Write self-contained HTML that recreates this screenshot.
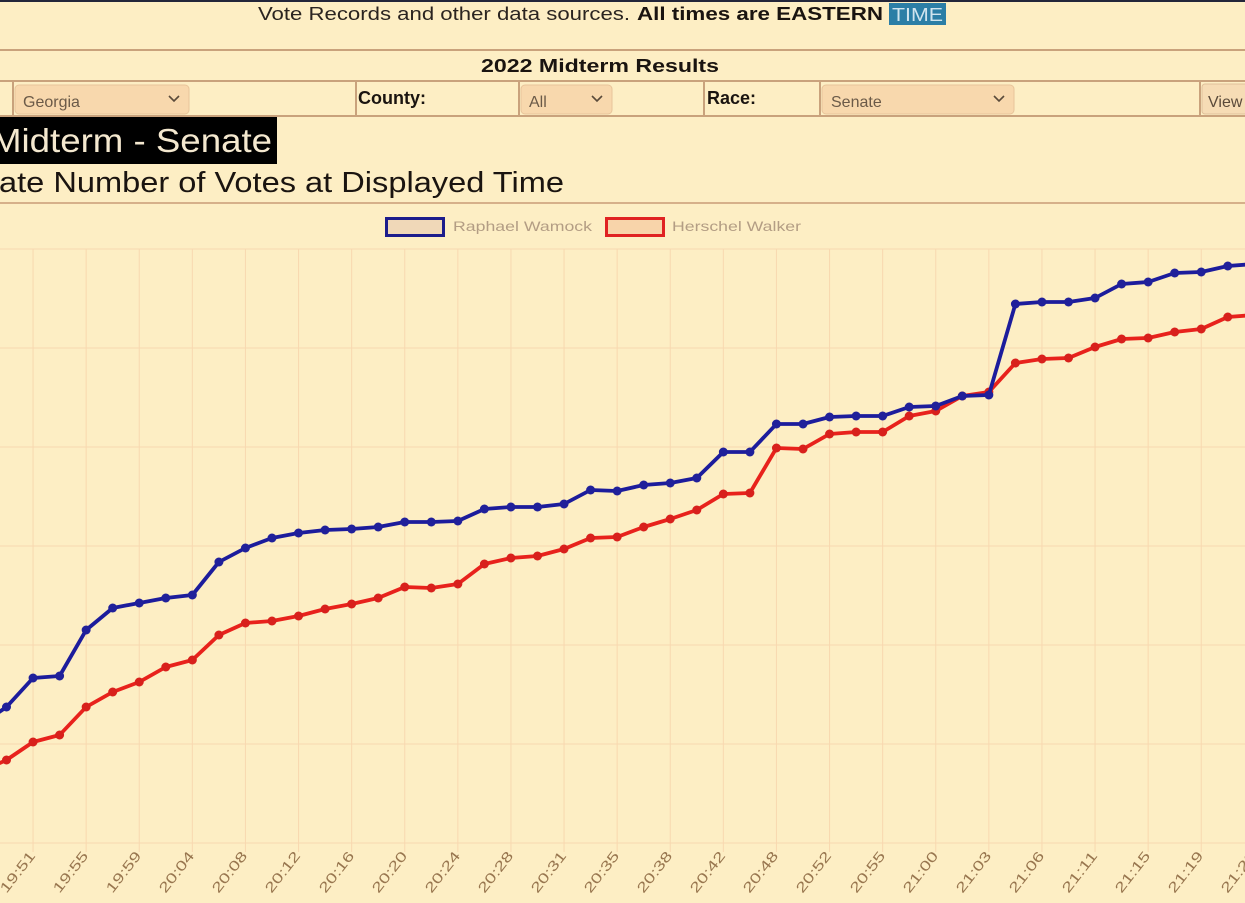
<!DOCTYPE html>
<html><head><meta charset="utf-8"><style>
html,body{margin:0;padding:0;background:#fdeec4;}
svg{display:block;}
text{font-family:"Liberation Sans",sans-serif;}
</style></head><body>
<svg width="1245" height="903" viewBox="0 0 1245 903" xmlns="http://www.w3.org/2000/svg">
<rect x="0" y="0" width="1245" height="903" fill="#fdeec4"/>
<rect x="0" y="0" width="1245" height="2" fill="#23263a"/>
<!-- top text -->
<text x="258" y="20" font-size="18" fill="#2a2420" textLength="372" lengthAdjust="spacingAndGlyphs">Vote Records and other data sources.</text>
<text x="637" y="20" font-size="18" font-weight="bold" fill="#1a1410" textLength="246" lengthAdjust="spacingAndGlyphs">All times are EASTERN</text>
<rect x="889" y="3" width="57" height="22" fill="#2b7ea6"/>
<text x="892" y="21" font-size="18" fill="#cfe4ee" textLength="51" lengthAdjust="spacingAndGlyphs">TIME</text>
<!-- rules -->
<line x1="0" y1="50" x2="1245" y2="50" stroke="#c9a27c" stroke-width="2"/>
<text x="481" y="72" font-size="18" font-weight="bold" fill="#1a1410" textLength="238" lengthAdjust="spacingAndGlyphs">2022 Midterm Results</text>
<line x1="0" y1="81" x2="1245" y2="81" stroke="#c9a27c" stroke-width="2"/>
<line x1="0" y1="116" x2="1245" y2="116" stroke="#c9a27c" stroke-width="2"/>
<g stroke="#c9a27c" stroke-width="2">
<line x1="13" y1="81" x2="13" y2="116"/>
<line x1="356" y1="81" x2="356" y2="116"/>
<line x1="519" y1="81" x2="519" y2="116"/>
<line x1="704" y1="81" x2="704" y2="116"/>
<line x1="820" y1="81" x2="820" y2="116"/>
<line x1="1200" y1="81" x2="1200" y2="116"/>
</g>
<!-- selects -->
<rect x="15" y="85" width="174" height="29" rx="4" fill="#f8d8ad" stroke="#e8c49a" stroke-width="1"/>
<text x="23" y="107" font-size="16" fill="#6b5a48">Georgia</text>
<polyline points="169,96 174,101 179,96" fill="none" stroke="#5a4a3a" stroke-width="1.6"/>
<text x="358" y="104" font-size="18" font-weight="bold" fill="#1a1410">County:</text>
<rect x="521" y="85" width="91" height="29" rx="4" fill="#f8d8ad" stroke="#e8c49a" stroke-width="1"/>
<text x="529" y="107" font-size="16" fill="#6b5a48">All</text>
<polyline points="592,96 597,101 602,96" fill="none" stroke="#5a4a3a" stroke-width="1.6"/>
<text x="707" y="104" font-size="18" font-weight="bold" fill="#1a1410">Race:</text>
<rect x="822" y="85" width="192" height="29" rx="4" fill="#f8d8ad" stroke="#e8c49a" stroke-width="1"/>
<text x="831" y="107" font-size="16" fill="#6b5a48">Senate</text>
<polyline points="994,96 999,101 1004,96" fill="none" stroke="#5a4a3a" stroke-width="1.6"/>
<rect x="1202" y="84" width="50" height="30" rx="3" fill="#f6dcb5" stroke="#e0c09a" stroke-width="1"/>
<text x="1208" y="107" font-size="16" fill="#5a4a3a">View</text>
<!-- black title -->
<rect x="0" y="117" width="277" height="47" fill="#000"/>
<text x="-9" y="152" font-size="33" fill="#f4e8cf" textLength="281" lengthAdjust="spacingAndGlyphs">Midterm - Senate</text>
<text x="-1" y="192" font-size="29" fill="#1a1410" textLength="565" lengthAdjust="spacingAndGlyphs">ate Number of Votes at Displayed Time</text>
<line x1="0" y1="203" x2="1245" y2="203" stroke="#d6b08a" stroke-width="2"/>
<!-- legend -->
<rect x="386.5" y="218.5" width="57" height="17" fill="#f0d8b8" stroke="#1c1c8c" stroke-width="3"/>
<text x="453" y="231" font-size="14" fill="#b39d84" textLength="139" lengthAdjust="spacingAndGlyphs">Raphael Wamock</text>
<rect x="606.5" y="218.5" width="57" height="17" fill="#f8d4aa" stroke="#e02222" stroke-width="3"/>
<text x="672" y="231" font-size="14" fill="#b39d84" textLength="129" lengthAdjust="spacingAndGlyphs">Herschel Walker</text>
<!-- grid -->
<g stroke="#f8d8b0" stroke-width="1">
<line x1="0" y1="249" x2="1245" y2="249"/>
<line x1="0" y1="348" x2="1245" y2="348"/>
<line x1="0" y1="447" x2="1245" y2="447"/>
<line x1="0" y1="546" x2="1245" y2="546"/>
<line x1="0" y1="645" x2="1245" y2="645"/>
<line x1="0" y1="744" x2="1245" y2="744"/>
<line x1="0" y1="843" x2="1245" y2="843"/>
<line x1="33.05" y1="249" x2="33.05" y2="852"/>
<line x1="86.15" y1="249" x2="86.15" y2="852"/>
<line x1="139.25" y1="249" x2="139.25" y2="852"/>
<line x1="192.35" y1="249" x2="192.35" y2="852"/>
<line x1="245.45" y1="249" x2="245.45" y2="852"/>
<line x1="298.55" y1="249" x2="298.55" y2="852"/>
<line x1="351.65" y1="249" x2="351.65" y2="852"/>
<line x1="404.75" y1="249" x2="404.75" y2="852"/>
<line x1="457.85" y1="249" x2="457.85" y2="852"/>
<line x1="510.95" y1="249" x2="510.95" y2="852"/>
<line x1="564.05" y1="249" x2="564.05" y2="852"/>
<line x1="617.15" y1="249" x2="617.15" y2="852"/>
<line x1="670.25" y1="249" x2="670.25" y2="852"/>
<line x1="723.35" y1="249" x2="723.35" y2="852"/>
<line x1="776.45" y1="249" x2="776.45" y2="852"/>
<line x1="829.55" y1="249" x2="829.55" y2="852"/>
<line x1="882.65" y1="249" x2="882.65" y2="852"/>
<line x1="935.75" y1="249" x2="935.75" y2="852"/>
<line x1="988.85" y1="249" x2="988.85" y2="852"/>
<line x1="1041.95" y1="249" x2="1041.95" y2="852"/>
<line x1="1095.05" y1="249" x2="1095.05" y2="852"/>
<line x1="1148.15" y1="249" x2="1148.15" y2="852"/>
<line x1="1201.25" y1="249" x2="1201.25" y2="852"/>
</g>
<!-- red series -->
<polyline fill="none" stroke="#e8221c" stroke-width="3.8" stroke-linejoin="round" points="-20,772 6.5,760 33.05,742 59.6,735 86.15,707 112.7,692 139.25,682 165.8,667 192.35,660 218.9,635 245.45,623 272,621 298.55,616 325.1,609 351.65,604 378.2,598 404.75,587 431.3,588 457.85,584 484.4,564 510.95,558 537.5,556 564.05,549 590.6,538 617.15,537 643.7,527 670.25,519 696.8,510 723.35,494 749.9,493 776.45,448 803,449 829.55,434 856.1,432 882.65,432 909.2,416 935.75,411 962.3,396 988.85,392 1015.4,363 1041.95,359 1068.5,358 1095.05,347 1121.6,339 1148.15,338 1174.7,332 1201.25,329 1227.8,317 1254.35,315"/>
<g fill="#d8201c">
<circle cx="6.5" cy="760" r="4.5"/><circle cx="33.05" cy="742" r="4.5"/><circle cx="59.6" cy="735" r="4.5"/><circle cx="86.15" cy="707" r="4.5"/><circle cx="112.7" cy="692" r="4.5"/><circle cx="139.25" cy="682" r="4.5"/><circle cx="165.8" cy="667" r="4.5"/><circle cx="192.35" cy="660" r="4.5"/><circle cx="218.9" cy="635" r="4.5"/><circle cx="245.45" cy="623" r="4.5"/><circle cx="272" cy="621" r="4.5"/><circle cx="298.55" cy="616" r="4.5"/><circle cx="325.1" cy="609" r="4.5"/><circle cx="351.65" cy="604" r="4.5"/><circle cx="378.2" cy="598" r="4.5"/><circle cx="404.75" cy="587" r="4.5"/><circle cx="431.3" cy="588" r="4.5"/><circle cx="457.85" cy="584" r="4.5"/><circle cx="484.4" cy="564" r="4.5"/><circle cx="510.95" cy="558" r="4.5"/><circle cx="537.5" cy="556" r="4.5"/><circle cx="564.05" cy="549" r="4.5"/><circle cx="590.6" cy="538" r="4.5"/><circle cx="617.15" cy="537" r="4.5"/><circle cx="643.7" cy="527" r="4.5"/><circle cx="670.25" cy="519" r="4.5"/><circle cx="696.8" cy="510" r="4.5"/><circle cx="723.35" cy="494" r="4.5"/><circle cx="749.9" cy="493" r="4.5"/><circle cx="776.45" cy="448" r="4.5"/><circle cx="803" cy="449" r="4.5"/><circle cx="829.55" cy="434" r="4.5"/><circle cx="856.1" cy="432" r="4.5"/><circle cx="882.65" cy="432" r="4.5"/><circle cx="909.2" cy="416" r="4.5"/><circle cx="935.75" cy="411" r="4.5"/><circle cx="962.3" cy="396" r="4.5"/><circle cx="988.85" cy="392" r="4.5"/><circle cx="1015.4" cy="363" r="4.5"/><circle cx="1041.95" cy="359" r="4.5"/><circle cx="1068.5" cy="358" r="4.5"/><circle cx="1095.05" cy="347" r="4.5"/><circle cx="1121.6" cy="339" r="4.5"/><circle cx="1148.15" cy="338" r="4.5"/><circle cx="1174.7" cy="332" r="4.5"/><circle cx="1201.25" cy="329" r="4.5"/><circle cx="1227.8" cy="317" r="4.5"/>
</g>
<!-- blue series -->
<polyline fill="none" stroke="#1c1c9c" stroke-width="3.8" stroke-linejoin="round" points="-20,725 6.5,707 33.05,678 59.6,676 86.15,630 112.7,608 139.25,603 165.8,598 192.35,595 218.9,562 245.45,548 272,538 298.55,533 325.1,530 351.65,529 378.2,527 404.75,522 431.3,522 457.85,521 484.4,509 510.95,507 537.5,507 564.05,504 590.6,490 617.15,491 643.7,485 670.25,483 696.8,478 723.35,452 749.9,452 776.45,424 803,424 829.55,417 856.1,416 882.65,416 909.2,407 935.75,406 962.3,396 988.85,395 1015.4,304 1041.95,302 1068.5,302 1095.05,298 1121.6,284 1148.15,282 1174.7,273 1201.25,272 1227.8,266 1254.35,264"/>
<g fill="#20209a">
<circle cx="6.5" cy="707" r="4.5"/><circle cx="33.05" cy="678" r="4.5"/><circle cx="59.6" cy="676" r="4.5"/><circle cx="86.15" cy="630" r="4.5"/><circle cx="112.7" cy="608" r="4.5"/><circle cx="139.25" cy="603" r="4.5"/><circle cx="165.8" cy="598" r="4.5"/><circle cx="192.35" cy="595" r="4.5"/><circle cx="218.9" cy="562" r="4.5"/><circle cx="245.45" cy="548" r="4.5"/><circle cx="272" cy="538" r="4.5"/><circle cx="298.55" cy="533" r="4.5"/><circle cx="325.1" cy="530" r="4.5"/><circle cx="351.65" cy="529" r="4.5"/><circle cx="378.2" cy="527" r="4.5"/><circle cx="404.75" cy="522" r="4.5"/><circle cx="431.3" cy="522" r="4.5"/><circle cx="457.85" cy="521" r="4.5"/><circle cx="484.4" cy="509" r="4.5"/><circle cx="510.95" cy="507" r="4.5"/><circle cx="537.5" cy="507" r="4.5"/><circle cx="564.05" cy="504" r="4.5"/><circle cx="590.6" cy="490" r="4.5"/><circle cx="617.15" cy="491" r="4.5"/><circle cx="643.7" cy="485" r="4.5"/><circle cx="670.25" cy="483" r="4.5"/><circle cx="696.8" cy="478" r="4.5"/><circle cx="723.35" cy="452" r="4.5"/><circle cx="749.9" cy="452" r="4.5"/><circle cx="776.45" cy="424" r="4.5"/><circle cx="803" cy="424" r="4.5"/><circle cx="829.55" cy="417" r="4.5"/><circle cx="856.1" cy="416" r="4.5"/><circle cx="882.65" cy="416" r="4.5"/><circle cx="909.2" cy="407" r="4.5"/><circle cx="935.75" cy="406" r="4.5"/><circle cx="962.3" cy="396" r="4.5"/><circle cx="988.85" cy="395" r="4.5"/><circle cx="1015.4" cy="304" r="4.5"/><circle cx="1041.95" cy="302" r="4.5"/><circle cx="1068.5" cy="302" r="4.5"/><circle cx="1095.05" cy="298" r="4.5"/><circle cx="1121.6" cy="284" r="4.5"/><circle cx="1148.15" cy="282" r="4.5"/><circle cx="1174.7" cy="273" r="4.5"/><circle cx="1201.25" cy="272" r="4.5"/><circle cx="1227.8" cy="266" r="4.5"/>
</g>
<!-- x tick labels -->
<g font-size="14" fill="#98764f" text-anchor="end">
<text transform="translate(36,856) rotate(-52)" textLength="48" lengthAdjust="spacingAndGlyphs">19:51</text>
<text transform="translate(89,856) rotate(-52)" textLength="48" lengthAdjust="spacingAndGlyphs">19:55</text>
<text transform="translate(142,856) rotate(-52)" textLength="48" lengthAdjust="spacingAndGlyphs">19:59</text>
<text transform="translate(195,856) rotate(-52)" textLength="48" lengthAdjust="spacingAndGlyphs">20:04</text>
<text transform="translate(248,856) rotate(-52)" textLength="48" lengthAdjust="spacingAndGlyphs">20:08</text>
<text transform="translate(301,856) rotate(-52)" textLength="48" lengthAdjust="spacingAndGlyphs">20:12</text>
<text transform="translate(355,856) rotate(-52)" textLength="48" lengthAdjust="spacingAndGlyphs">20:16</text>
<text transform="translate(408,856) rotate(-52)" textLength="48" lengthAdjust="spacingAndGlyphs">20:20</text>
<text transform="translate(461,856) rotate(-52)" textLength="48" lengthAdjust="spacingAndGlyphs">20:24</text>
<text transform="translate(514,856) rotate(-52)" textLength="48" lengthAdjust="spacingAndGlyphs">20:28</text>
<text transform="translate(567,856) rotate(-52)" textLength="48" lengthAdjust="spacingAndGlyphs">20:31</text>
<text transform="translate(620,856) rotate(-52)" textLength="48" lengthAdjust="spacingAndGlyphs">20:35</text>
<text transform="translate(673,856) rotate(-52)" textLength="48" lengthAdjust="spacingAndGlyphs">20:38</text>
<text transform="translate(726,856) rotate(-52)" textLength="48" lengthAdjust="spacingAndGlyphs">20:42</text>
<text transform="translate(779,856) rotate(-52)" textLength="48" lengthAdjust="spacingAndGlyphs">20:48</text>
<text transform="translate(832,856) rotate(-52)" textLength="48" lengthAdjust="spacingAndGlyphs">20:52</text>
<text transform="translate(886,856) rotate(-52)" textLength="48" lengthAdjust="spacingAndGlyphs">20:55</text>
<text transform="translate(939,856) rotate(-52)" textLength="48" lengthAdjust="spacingAndGlyphs">21:00</text>
<text transform="translate(992,856) rotate(-52)" textLength="48" lengthAdjust="spacingAndGlyphs">21:03</text>
<text transform="translate(1045,856) rotate(-52)" textLength="48" lengthAdjust="spacingAndGlyphs">21:06</text>
<text transform="translate(1098,856) rotate(-52)" textLength="48" lengthAdjust="spacingAndGlyphs">21:11</text>
<text transform="translate(1151,856) rotate(-52)" textLength="48" lengthAdjust="spacingAndGlyphs">21:15</text>
<text transform="translate(1204,856) rotate(-52)" textLength="48" lengthAdjust="spacingAndGlyphs">21:19</text>
<text transform="translate(1257,856) rotate(-52)" textLength="48" lengthAdjust="spacingAndGlyphs">21:22</text>
</g>
</svg>
</body></html>
